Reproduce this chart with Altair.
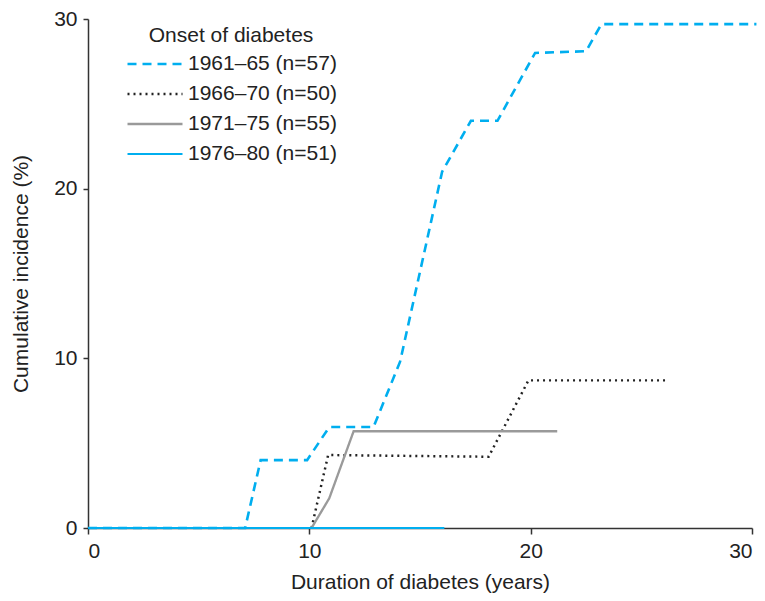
import altair as alt
import pandas as pd

groups = ["1961–65 (n=57)", "1966–70 (n=50)", "1971–75 (n=55)", "1976–80 (n=51)"]

x_6165 = [0, 7.1, 7.8, 9.9, 10.9, 12.9, 14.1, 16.0, 17.3, 18.5, 20.2, 22.5, 23.2, 30.2]
y_6165 = [0, 0, 4.0, 4.0, 5.95, 5.95, 9.8, 21.0, 24.0, 24.0, 28.0, 28.1, 29.7, 29.7]

x_6670 = [10.1, 10.85, 18.1, 19.9, 26.2]
y_6670 = [0, 4.3, 4.2, 8.7, 8.7]

x_7175 = [10.1, 10.9, 12.0, 21.2]
y_7175 = [0, 1.75, 5.7, 5.7]

x_7680 = [0, 16.1]
y_7680 = [0, 0]

rows = []
for g, xs, ys in zip(groups, [x_6165, x_6670, x_7175, x_7680], [y_6165, y_6670, y_7175, y_7680]):
    for i, (xv, yv) in enumerate(zip(xs, ys)):
        rows.append({"group": g, "x": xv, "y": yv, "i": i})
df = pd.DataFrame(rows)

blue = "#00AEEF"
colors = [blue, "#222222", "#9A9A9A", blue]
dashes = [[9, 6], [2, 4], [1, 0], [1, 0]]
widths = [2.6, 2.2, 2.6, 3.0]

legend = alt.Legend(
    title="Onset of diabetes",
    orient="none",
    legendX=38,
    legendY=6,
    symbolType="stroke",
    symbolSize=3025,
    symbolStrokeWidth=2.5,
    clipHeight=20,
    labelFontSize=21,
    labelFont="Liberation Sans",
    labelColor="#222222",
    labelOffset=4,
    titleFontSize=21,
    titleFont="Liberation Sans",
    titleFontWeight="normal",
    titleColor="#222222",
    titleAnchor="middle",
    titleAlign="center",
    titlePadding=8,
    rowPadding=9,
)

chart = (
    alt.Chart(df)
    .mark_line(clip=False)
    .encode(
        x=alt.X(
            "x:Q",
            scale=alt.Scale(domain=[0, 30], nice=False),
            axis=alt.Axis(
                title="Duration of diabetes (years)",
                values=[0, 10, 20, 30],
                grid=False,
                tickSize=6,
                labelPadding=6,
                titlePadding=10,
            ),
        ),
        y=alt.Y(
            "y:Q",
            scale=alt.Scale(domain=[0, 30], nice=False),
            axis=alt.Axis(
                title="Cumulative incidence (%)",
                values=[0, 10, 20, 30],
                grid=False,
                tickSize=5,
                labelPadding=6,
                titlePadding=22,
            ),
        ),
        color=alt.Color("group:N", scale=alt.Scale(domain=groups, range=colors), legend=legend),
        strokeDash=alt.StrokeDash("group:N", scale=alt.Scale(domain=groups, range=dashes), legend=legend),
        strokeWidth=alt.StrokeWidth("group:N", scale=alt.Scale(domain=groups, range=widths), legend=None),
        order="i:Q",
    )
    .properties(
        width=664,
        height=509,
        autosize=alt.AutoSizeParams(type="none"),
        padding={"left": 80, "top": 11, "right": 5, "bottom": 65},
    )
    .configure_view(stroke=None)
    .configure_axis(
        labelFont="Liberation Sans",
        titleFont="Liberation Sans",
        labelFontSize=21,
        titleFontSize=21,
        titleFontWeight="normal",
        labelColor="#222222",
        titleColor="#222222",
        domainColor="#333333",
        tickColor="#333333",
        domainWidth=1.5,
        tickWidth=1.5,
    )
)

chart.save("out.html", embed_options={"renderer": "svg", "actions": False})
